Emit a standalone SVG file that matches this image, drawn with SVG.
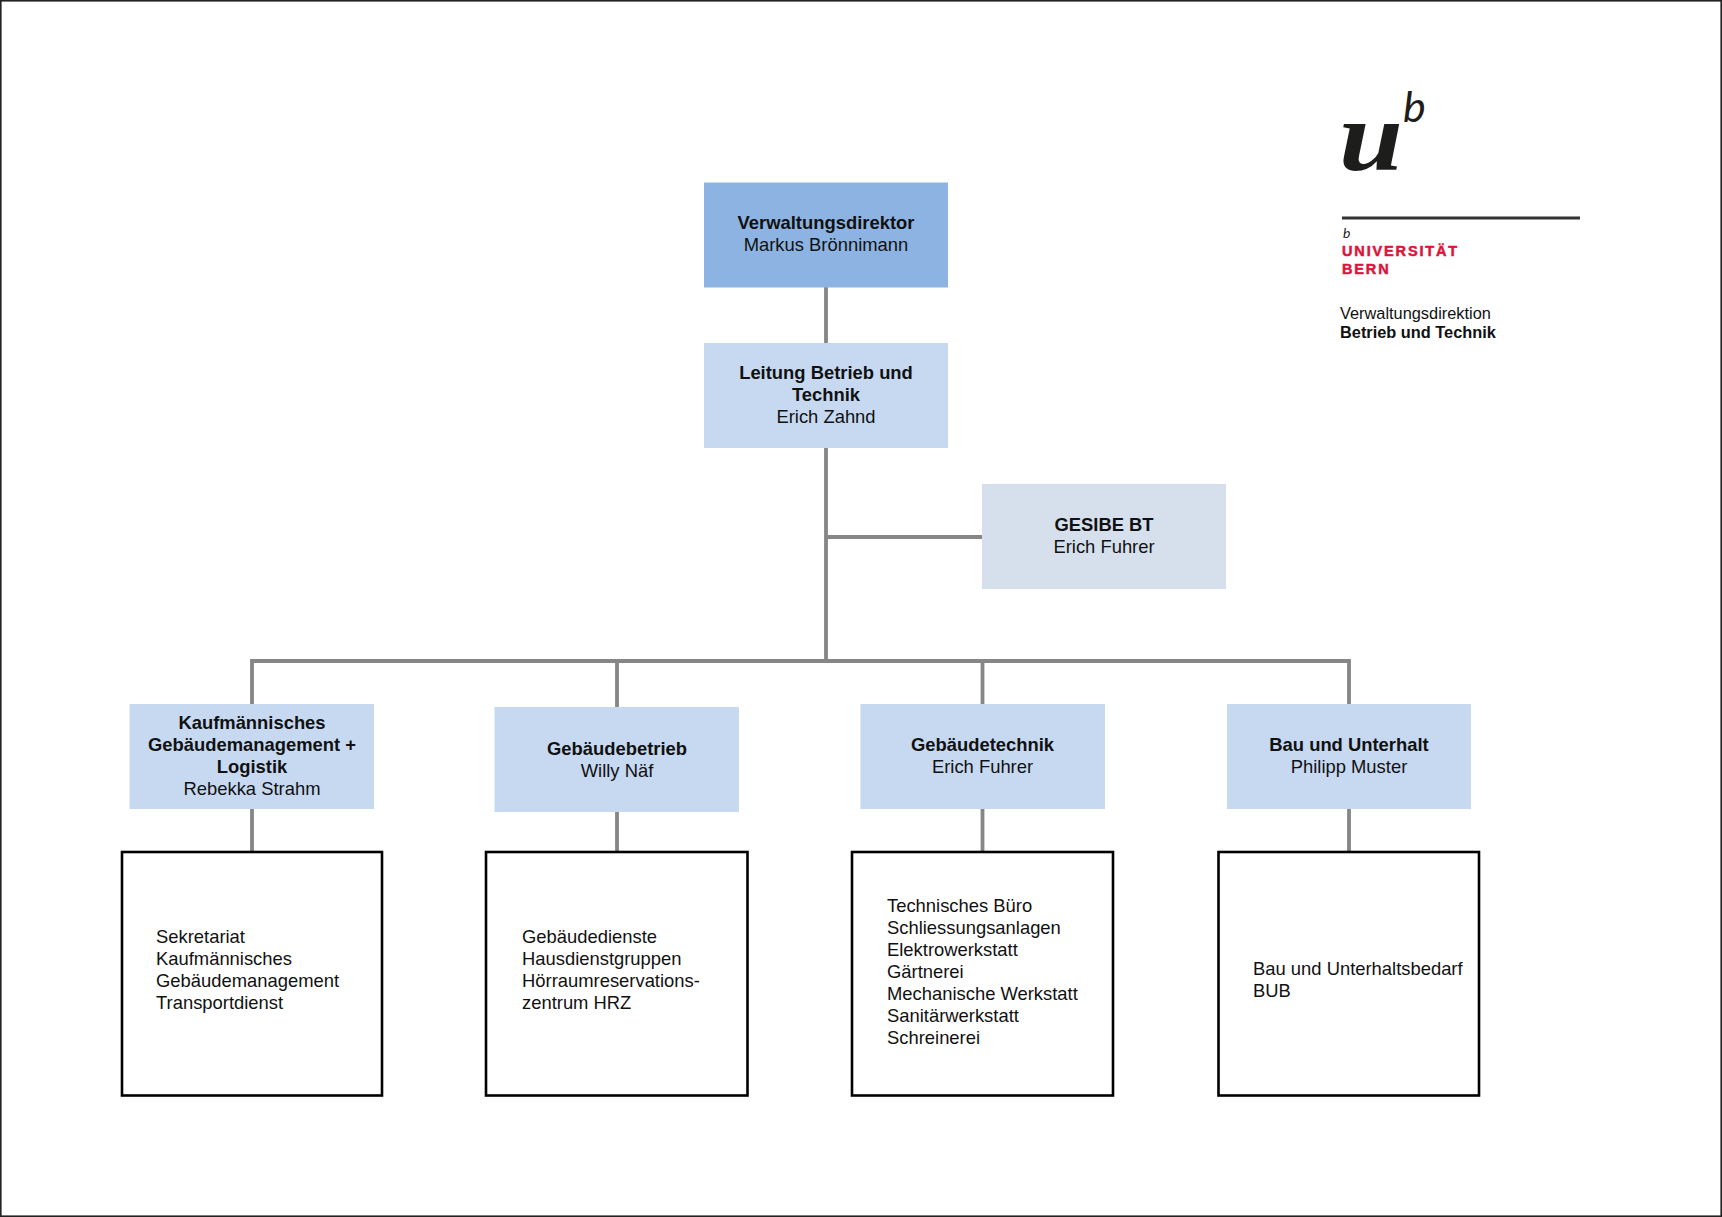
<svg xmlns="http://www.w3.org/2000/svg" width="1722" height="1217" viewBox="0 0 1722 1217">
<style>
text{font-family:"Liberation Sans",Arial,sans-serif;font-size:18.4px;fill:#111}
.c text,.c{text-anchor:middle}
.b{font-weight:bold}
.box{fill:#c6d9f1}
.det{fill:#fff;stroke:#000;stroke-width:2.6}
.con{fill:none;stroke:#868686;stroke-width:3.8}
.red{font-size:14.5px;font-weight:bold;fill:#dc143c;letter-spacing:1.85px;stroke:#dc143c;stroke-width:.5px}
</style>
<rect width="1722" height="1217" fill="#fff"/>
<rect x="0.8" y="0.8" width="1720.4" height="1215.4" fill="none" stroke="#222" stroke-width="1.6"/>
<g id="logo">
<text transform="translate(1339 170) scale(1.15 1)" style="font-family:'Liberation Serif',serif;font-size:100px;font-weight:bold;font-style:italic;fill:#1d1d1b">u</text>
<text x="1403" y="122" style="font-family:Lato,sans-serif;font-size:43px;font-style:italic;fill:#1d1d1b">b</text>
<rect x="1342" y="216.500" width="238" height="3" fill="#333"/>
<text x="1343" y="238" style="font-family:Lato,sans-serif;font-size:14px;font-style:italic;fill:#1d1d1b">b</text>
<text x="1342" y="256" class="red">UNIVERSITÄT</text>
<text x="1342" y="274" class="red">BERN</text>
<text x="1340" y="319" style="font-size:16.350px">Verwaltungsdirektion</text>
<text x="1340" y="338" class="b" style="font-size:16.350px">Betrieb und Technik</text>
</g>
<g id="connectors">
<path class="con" d="M826 287V343M826 448V661M826 537H982M252 704V661H1349V704M617 661V707M982.500 661V704M252 809V852M617 812V852M982.500 809V852M1349 809V852"/>
</g>
<g id="n1" class="c"><rect x="704" y="182.500" width="244" height="105" fill="#8db3e2"/><text x="826" y="229" class="b">Verwaltungsdirektor</text><text x="826" y="251">Markus Brönnimann</text></g>
<g id="n2" class="c"><rect class="box" x="704" y="343" width="244" height="105"/><text x="826" y="379" class="b">Leitung Betrieb und</text><text x="826" y="401" class="b">Technik</text><text x="826" y="423">Erich Zahnd</text></g>
<g id="n3" class="c"><rect x="982" y="484" width="244" height="105" fill="#d6e0ed"/><text x="1104" y="531" class="b">GESIBE BT</text><text x="1104" y="553">Erich Fuhrer</text></g>
<g id="n4" class="c"><rect class="box" x="129.500" y="704" width="244.500" height="105"/><text x="252" y="729" class="b">Kaufmännisches</text><text x="252" y="751" class="b">Gebäudemanagement +</text><text x="252" y="773" class="b">Logistik</text><text x="252" y="795">Rebekka Strahm</text></g>
<g id="n5" class="c"><rect class="box" x="494.500" y="707" width="244.500" height="105"/><text x="617" y="754.500" class="b">Gebäudebetrieb</text><text x="617" y="776.500">Willy Näf</text></g>
<g id="n6" class="c"><rect class="box" x="860.500" y="704" width="244.500" height="105"/><text x="982.500" y="751" class="b">Gebäudetechnik</text><text x="982.500" y="773">Erich Fuhrer</text></g>
<g id="n7" class="c"><rect class="box" x="1227" y="704" width="244" height="105"/><text x="1349" y="751" class="b">Bau und Unterhalt</text><text x="1349" y="773">Philipp Muster</text></g>
<g id="d1"><rect class="det" x="122" y="852" width="260" height="243.500"/><text x="156" y="943">Sekretariat</text><text x="156" y="965">Kaufmännisches</text><text x="156" y="987">Gebäudemanagement</text><text x="156" y="1009">Transportdienst</text></g>
<g id="d2"><rect class="det" x="486" y="852" width="261.500" height="243.500"/><text x="522" y="943">Gebäudedienste</text><text x="522" y="965">Hausdienstgruppen</text><text x="522" y="987">Hörraumreservations-</text><text x="522" y="1009">zentrum HRZ</text></g>
<g id="d3"><rect class="det" x="852" y="852" width="261" height="243.500"/><text x="887" y="912">Technisches Büro</text><text x="887" y="934">Schliessungsanlagen</text><text x="887" y="956">Elektrowerkstatt</text><text x="887" y="978">Gärtnerei</text><text x="887" y="1000">Mechanische Werkstatt</text><text x="887" y="1022">Sanitärwerkstatt</text><text x="887" y="1044">Schreinerei</text></g>
<g id="d4"><rect class="det" x="1218.500" y="852" width="260.500" height="243.500"/><text x="1253" y="975">Bau und Unterhaltsbedarf</text><text x="1253" y="997">BUB</text></g>
</svg>
